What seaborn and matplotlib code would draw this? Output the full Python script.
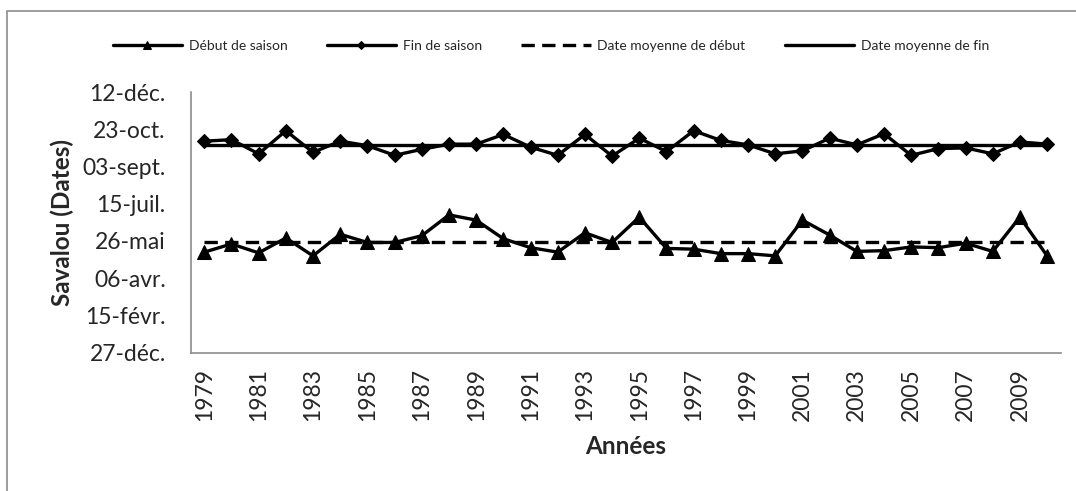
# Savalou - dates de debut et de fin de saison (1979-2010)
import numpy as np
import pandas as pd
import matplotlib
matplotlib.use('Agg')
import matplotlib.pyplot as plt
from matplotlib.patches import Rectangle
from matplotlib.ticker import FixedLocator
import seaborn as sns

# Data (day of year, 1 = 1 Jan; 27-dec of previous year = -4)
years = list(range(1979, 2011))
debut = [131, 142, 130, 150, 126, 155, 144, 144, 153, 181, 174, 149, 137, 131, 157, 144,
         178, 136, 135, 129, 129, 126, 174, 154, 132, 133, 138, 137, 143, 132, 178, 126]
fin = [280, 282, 263, 294, 265, 280, 274, 261, 269, 276, 276, 289, 272, 261, 289, 260,
       284, 266, 294, 281, 275, 263, 267, 284, 275, 290, 261, 270, 271, 263, 279, 276]
moyenne_debut = 145
moyenne_fin = 275

ytick_days = [-4, 46, 96, 146, 196, 246, 296, 346]
ytick_labels = ['27-déc.', '15-févr.', '06-avr.', '26-mai', '15-juil.', '03-sept.', '23-oct.', '12-déc.']
xtick_years = list(range(1979, 2010, 2))

df = pd.DataFrame({'annee': years, 'debut': debut, 'fin': fin})
df['moy_debut'] = moyenne_debut
df['moy_fin'] = moyenne_fin

sns.set_style('white')
plt.rcParams['font.family'] = ['Lato', 'DejaVu Sans']

fig = plt.figure(figsize=(10.76, 4.91), dpi=100)
ax = fig.add_axes([0.1772, 0.2817, 0.8086, 0.5309])

# outer frame of the chart (only left and top edges visible)
fig.patches.append(Rectangle((7 / 1076, -0.2), 1.2, 1.2 - 11 / 491, transform=fig.transFigure,
                             facecolor='none', edgecolor='#8c8c8c', lw=1.2))

lw = 2.4
sns.lineplot(data=df, x='annee', y='debut', ax=ax, color='black', lw=lw, marker='^', markersize=10,
             markeredgecolor='black', label='Début de saison')
sns.lineplot(data=df, x='annee', y='fin', ax=ax, color='black', lw=lw, marker='D', markersize=7.5,
             markeredgecolor='black', label='Fin de saison')
sns.lineplot(data=df, x='annee', y='moy_debut', ax=ax, color='black', lw=lw, linestyle=(0, (4, 2.2)),
             label='Date moyenne de début')
sns.lineplot(data=df, x='annee', y='moy_fin', ax=ax, color='black', lw=lw, label='Date moyenne de fin')

# axes
ax.set_xlim(1978.5, 2010.5)
ax.set_ylim(-4, 346)
ax.set_yticks(ytick_days)
ax.set_yticklabels(ytick_labels, fontsize=16.5)
ax.set_xticks(xtick_years)
ax.set_xticklabels([str(y) for y in xtick_years], rotation=90, fontsize=16.5)
ax.xaxis.set_minor_locator(FixedLocator(np.arange(1978.5, 2011, 2)))
ax.tick_params(axis='x', which='major', length=0, pad=11)
ax.tick_params(axis='x', which='minor', length=6, width=1.2, color='#8c8c8c', direction='out')
ax.tick_params(axis='y', length=6, width=1.2, color='#8c8c8c', direction='out', pad=12)

for side in ['top', 'right']:
    ax.spines[side].set_visible(False)
for side in ['left', 'bottom']:
    ax.spines[side].set_color('#8c8c8c')
    ax.spines[side].set_linewidth(1.2)

ax.set_xlabel('Années', fontsize=17.5, fontweight='bold', labelpad=10)
ax.set_ylabel('Savalou (Dates)', fontsize=17.5, fontweight='bold', labelpad=6)

ax.legend(loc='center', bbox_to_anchor=(0.512, 0.906), bbox_transform=fig.transFigure, ncol=4,
          frameon=False, fontsize=10, handlelength=5, handletextpad=0.5, columnspacing=2.8,
          markerscale=0.6)

fig.savefig('out.png', dpi=100)
